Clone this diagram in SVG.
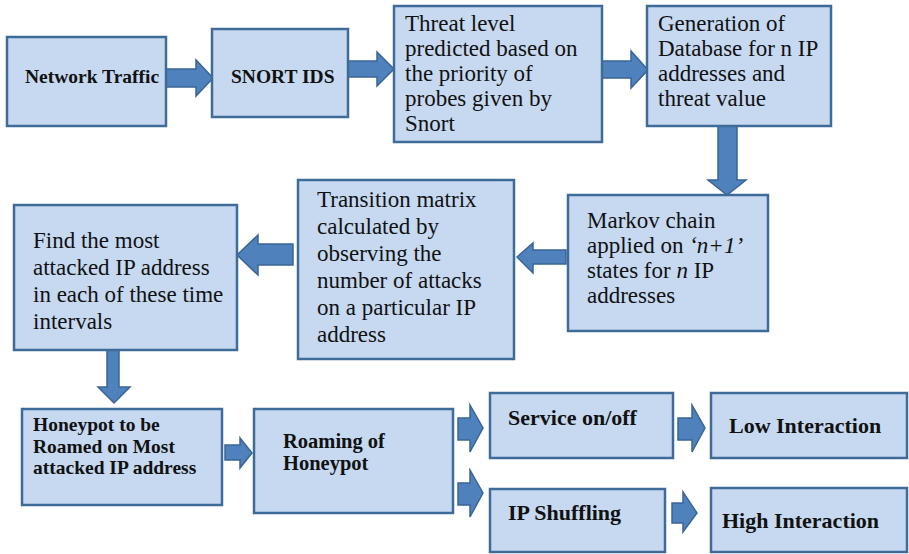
<svg xmlns="http://www.w3.org/2000/svg" width="909" height="554" viewBox="0 0 909 554">
<style>
.box{fill:#C6D9F1;stroke:#3E6B98;stroke-width:2.5}
.arr{fill:#4F81BD;stroke:#3A6595;stroke-width:1.5;stroke-linejoin:miter}
text{font-family:"Liberation Serif","Times New Roman",serif;fill:#111}
.r{font-size:23px}
.b{font-weight:bold}
.b19{font-size:19.5px}
.b20{font-size:20.5px}
.b22{font-size:22px}
.i{font-style:italic}
</style>
<rect width="909" height="554" fill="#fff"/>
<g id="connectors">
<polygon class="arr" points="166,69 196,69 196,60 213,78 196,96 196,87 166,87"/>
<polygon class="arr" points="347,61 377,61 377,52 394,69 377,86 377,77 347,77"/>
<polygon class="arr" points="602,61 631,61 631,51 648,70 631,88 631,78 602,78"/>
<polygon class="arr" points="718,126 737,126 737,180 746,180 727,195 708,180 718,180"/>
<polygon class="arr" points="566,250 533,250 533,243 517,257 533,273 533,264 566,264"/>
<polygon class="arr" points="293,244 258,244 258,235 237,255 258,275 258,265 293,265"/>
<polygon class="arr" points="107,350 119,350 119,387 130,387 114,403 98,387 107,387"/>
<polygon class="arr" points="225,445 240,445 240,438 252,453 240,468 240,460 225,460"/>
<polygon class="arr" points="458,418 470,418 470,405 483,428 470,452 470,440 458,440"/>
<polygon class="arr" points="458,483 470,483 470,470 483,493 470,517 470,505 458,505"/>
<polygon class="arr" points="678,418 692,418 692,405 705,428 692,452 692,440 678,440"/>
<polygon class="arr" points="672,503 683,503 683,492 697,513 683,532 683,523 672,523"/>
</g>
<g id="n-network">
<rect class="box" x="7" y="37" width="159" height="89"/>
<text class="b b19" x="25" y="83">Network Traffic</text>
</g>
<g id="n-snort">
<rect class="box" x="212" y="29" width="136" height="88"/>
<text class="b b19" x="231" y="83">SNORT IDS</text>
</g>
<g id="n-threat">
<rect class="box" x="394" y="6" width="208" height="136"/>
<text class="r" x="405" y="31">Threat level</text>
<text class="r" x="405" y="56">predicted based on</text>
<text class="r" x="405" y="81">the priority of</text>
<text class="r" x="405" y="106">probes given by</text>
<text class="r" x="405" y="131">Snort</text>
</g>
<g id="n-generation">
<rect class="box" x="647" y="6" width="184" height="120"/>
<text class="r" x="658" y="31">Generation of</text>
<text class="r" x="658" y="56">Database for n IP</text>
<text class="r" x="658" y="81">addresses and</text>
<text class="r" x="658" y="106">threat value</text>
</g>
<g id="n-markov">
<rect class="box" x="568" y="195" width="200" height="136"/>
<text class="r" x="587" y="228">Markov chain</text>
<text class="r" x="587" y="253">applied on <tspan class="i">‘n+1’</tspan></text>
<text class="r" x="587" y="278">states for <tspan class="i">n</tspan> IP</text>
<text class="r" x="587" y="303">addresses</text>
</g>
<g id="n-transition">
<rect class="box" x="298" y="180" width="216" height="179"/>
<text class="r" x="317" y="207">Transition matrix</text>
<text class="r" x="317" y="234">calculated by</text>
<text class="r" x="317" y="261">observing the</text>
<text class="r" x="317" y="288">number of attacks</text>
<text class="r" x="317" y="315">on a particular IP</text>
<text class="r" x="317" y="342">address</text>
</g>
<g id="n-find">
<rect class="box" x="14" y="205" width="223" height="145"/>
<text class="r" x="33" y="248">Find the most</text>
<text class="r" x="33" y="275">attacked IP address</text>
<text class="r" x="33" y="302">in each of these time</text>
<text class="r" x="33" y="329">intervals</text>
</g>
<g id="n-honeypot">
<rect class="box" x="22" y="409" width="200" height="96"/>
<text class="b b19" x="33" y="431">Honeypot to be</text>
<text class="b b19" x="33" y="453">Roamed on Most</text>
<text class="b b19" x="33" y="474">attacked IP address</text>
</g>
<g id="n-roaming">
<rect class="box" x="254" y="409" width="199" height="104"/>
<text class="b b20" x="283" y="448">Roaming of</text>
<text class="b b20" x="283" y="470">Honeypot</text>
</g>
<g id="n-service">
<rect class="box" x="490" y="393" width="183" height="65"/>
<text class="b b22" x="508" y="425">Service on/off</text>
</g>
<g id="n-low">
<rect class="box" x="711" y="393" width="196" height="65"/>
<text class="b b22" x="729" y="433">Low Interaction</text>
</g>
<g id="n-ipshuffling">
<rect class="box" x="490" y="489" width="175" height="63"/>
<text class="b b22" x="508" y="520">IP Shuffling</text>
</g>
<g id="n-high">
<rect class="box" x="711" y="488" width="196" height="64"/>
<text class="b b22" x="722" y="528">High Interaction</text>
</g>
</svg>
